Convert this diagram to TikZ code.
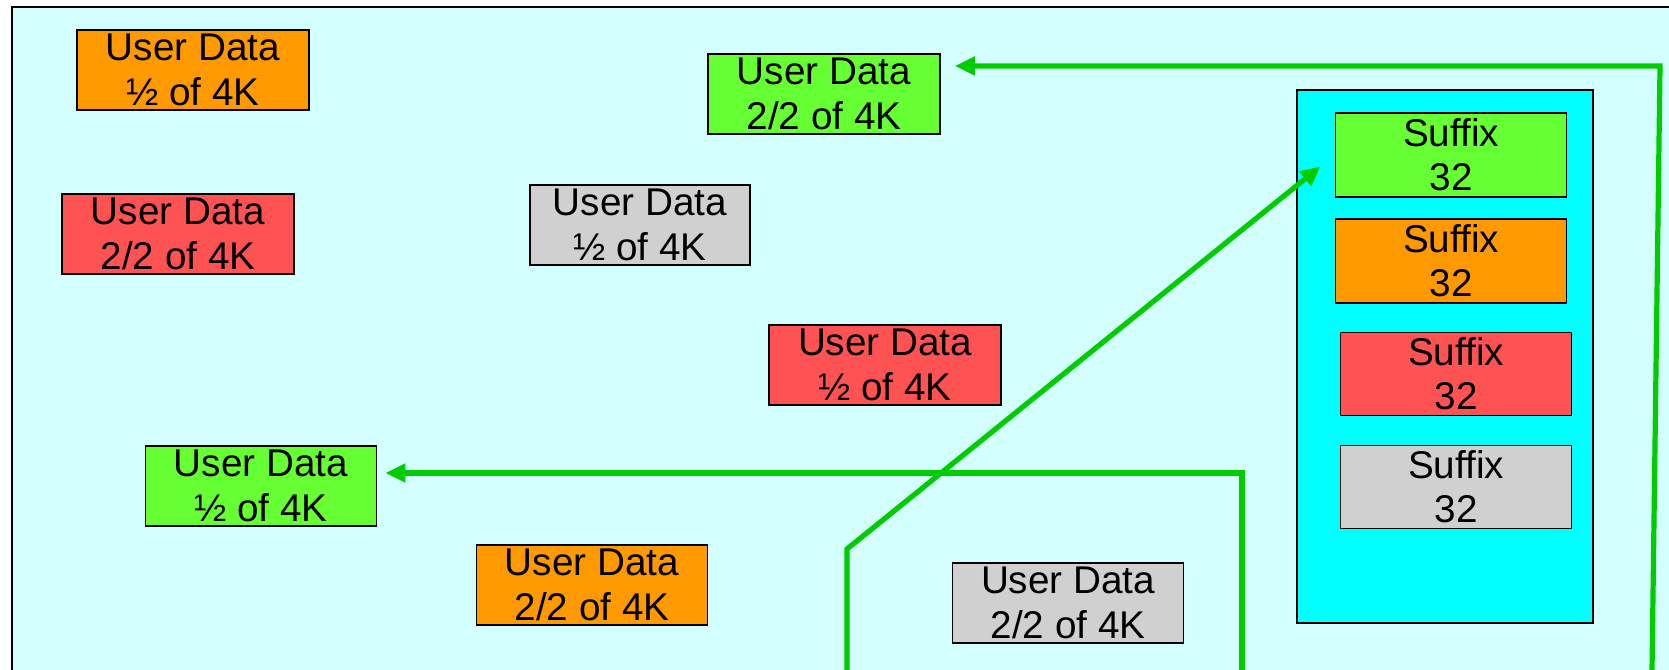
\documentclass[tikz,border=0pt]{standalone}
\usepackage{fontspec}
\setmainfont{Liberation Sans}
\usepackage{tikz}
\usetikzlibrary{arrows.meta}

\definecolor{bgcyan}{RGB}{212,255,255}
\definecolor{boxcyan}{RGB}{0,255,255}
\definecolor{udgreen}{RGB}{102,255,51}
\definecolor{udorange}{RGB}{255,153,0}
\definecolor{udred}{RGB}{255,82,82}
\definecolor{udgray}{RGB}{208,208,208}
\definecolor{linkgreen}{RGB}{0,204,0}

\begin{document}
\begin{tikzpicture}[
    userdata/.style={draw, line width=0.5pt, inner sep=0pt, align=center,
        minimum width=2.32cm, minimum height=0.8cm,
        font=\fontsize{11pt}{12.6pt}\selectfont},
    sfx/.style={userdata, minimum height=0.84cm},
    flow/.style={linkgreen, line width=0.052cm,
        -{Triangle[length=0.2cm,width=0.18cm]}}
  ]

    \useasboundingbox (0,0) rectangle (16.69,6.70);

    % page background, cut at right and bottom
    \fill[bgcyan] (0.12,0) rectangle (16.69,6.63);
    \draw[line width=0.025cm] (0.12,0) -- (0.12,6.63) -- (16.69,6.63);

    %%%%%%%%%%%%%%%%%%%%%%%%%%%%%%%%%%%%%%%%%%%%%%%%%%%%%%

    % first halves of 4K
    \node[userdata, fill=udorange] (orangeA) at (1.93,6.00) {User Data\\½ of 4K};
    \node[userdata, fill=udgray, minimum width=2.20cm] (grayA) at (6.40,4.45) {User Data\\½ of 4K};
    \node[userdata, fill=udred] (redA) at (8.85,3.05) {User Data\\½ of 4K};
    \node[userdata, fill=udgreen, minimum width=2.31cm] (greenA) at (2.61,1.84) {User Data\\½ of 4K};

    % second halves of 4K
    \node[userdata, fill=udred] (redB) at (1.78,4.36) {User Data\\2/2 of 4K};
    \node[userdata, fill=udgreen] (greenB) at (8.24,5.76) {User Data\\2/2 of 4K};
    \node[userdata, fill=udorange, minimum width=2.31cm] (orangeB) at (5.92,0.85) {User Data\\2/2 of 4K};
    \node[userdata, fill=udgray, minimum width=2.31cm] (grayB) at (10.68,0.67) {User Data\\2/2 of 4K};

    %%%%%%%%%%%%%%%%%%%%%%%%%%%%%%%%%%%%%%%%%%%%%%%%%%%%%%

    % block of suffixes
    \node[draw, line width=0.5pt, fill=boxcyan, minimum width=2.96cm, minimum height=5.33cm] (suffixes) at (14.45,3.135) {};
    \node[sfx, fill=udgreen, minimum width=2.31cm] (sufGreen) at (14.51,5.15) {Suffix\\32};
    \node[sfx, fill=udorange, minimum width=2.31cm] (sufOrange) at (14.51,4.09) {Suffix\\32};
    \node[sfx, fill=udred, minimum width=2.31cm, minimum height=0.83cm] (sufRed) at (14.56,2.96) {Suffix\\32};
    \node[sfx, fill=udgray, minimum width=2.31cm, minimum height=0.83cm] (sufGray) at (14.56,1.83) {Suffix\\32};

    %%%%%%%%%%%%%%%%%%%%%%%%%%%%%%%%%%%%%%%%%%%%%%%%%%%%%%

    % link up to the green suffix
    \coordinate (startA) at (8.47,0);
    \coordinate (bendA) at (8.47,1.21);
    \draw[flow, shorten >=0.18cm] (startA) -- (bendA) -- (sufGreen.west);

    % link to the green first half
    \coordinate (startB) at (12.42,0);
    \coordinate (bendB) at (12.42,1.97);
    \draw[flow, shorten >=0.08cm] (startB) -- (bendB) -- (greenA.east |- bendB);

    % link to the green second half
    \coordinate (startC) at (16.52,0);
    \coordinate (bendC) at (16.60,6.04);
    \draw[flow, shorten >=0.14cm] (startC) -- (bendC) -- (greenB.east |- bendC);

\end{tikzpicture}
\end{document}
